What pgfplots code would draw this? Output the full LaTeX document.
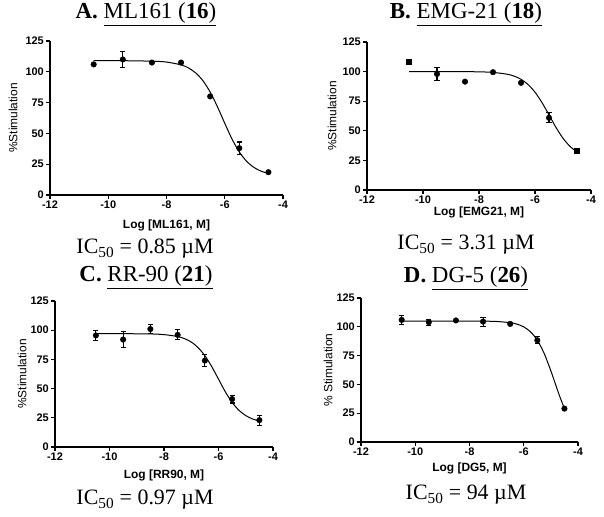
\documentclass[border=0pt]{standalone}
\usepackage{fontspec}
\setmainfont{Liberation Serif}
\setsansfont{Liberation Sans}
\usepackage{pgfplots}
\pgfplotsset{compat=1.18}

\pgfplotsset{
  dr/.style={
    scale only axis,
    axis lines=left,
    axis line style={-, line width=1.3bp},
    tick align=outside,
    tick style={line width=1.2bp, black},
    major tick length=4bp,
    xmin=-12, xmax=-4, ymin=0, ymax=125,
    xtick={-12,-10,-8,-6,-4}, ytick={0,25,50,75,100,125},
    /pgf/number format/assume math mode=true,
    ticklabel style={font=\sffamily\bfseries\fontsize{11}{12}\selectfont, inner sep=2bp},
    xlabel style={font=\sffamily\bfseries\fontsize{12}{13}\selectfont, anchor=center},
    ylabel style={font=\sffamily\fontsize{12}{13}\selectfont, anchor=center},
    clip=false,
  },
  xl/.style={xlabel style={at={([yshift=-#1]axis description cs:0.5,0)}}},
  yl/.style={ylabel style={at={([xshift=-#1]axis description cs:0,0.5)}}},
  fit/.style={black, line width=1bp, no marks, smooth},
  pts/.style={black, only marks, mark=*, mark size=2.8bp,
    error bars/y dir=both, error bars/y explicit,
    error bars/error bar style={line width=1.1bp},
    error bars/error mark options={rotate=90, mark size=2.6bp, line width=1.1bp}},
}

% measured points: x = log concentration, y = % stimulation, e = error
\pgfplotstableread{
x y e
-10.5 106 0
-9.5 110 6.5
-8.5 107.5 0
-7.5 107.5 0
-6.5 80 0
-5.5 38 5
-4.5 18.5 0
}\dataA
\pgfplotstableread{
x y e
-9.5 98 5.5
-8.5 91.5 0
-7.5 99.5 0
-6.5 90.5 0
-5.5 61 4.3
}\dataB
\pgfplotstableread{
x y e
-10.5 108.4 1.5
-4.5 33 2
}\dataBsq
\pgfplotstableread{
x y e
-10.5 95.5 4
-9.5 92 7
-8.5 101 4
-7.5 96 4.3
-6.5 74 5.2
-5.5 41 3.3
-4.5 23 4.3
}\dataC
\pgfplotstableread{
x y e
-10.5 106 3.7
-9.5 104 2.6
-8.5 105.5 0
-7.5 104.5 3.9
-6.5 102.5 0
-5.5 88.3 2.9
-4.5 29 0
}\dataD

\begin{document}
\begin{tikzpicture}[x=1bp, y=1bp]
\useasboundingbox (0,0) rectangle (604,517);

% ---- A ----
\begin{axis}[dr, at={(50bp,322bp)}, anchor=south west, width=233bp, height=154bp,
  xl=30bp, yl=37bp, xlabel={Log [ML161, M]}, ylabel={\%Stimulation}]
\addplot[fit] coordinates {(-10.5,109) (-9.5,109) (-8.5,108.6) (-8,107.9) (-7.5,105.6)
  (-7.25,103.2) (-7,99.1) (-6.75,92.8) (-6.5,83.5) (-6.25,71.6) (-6,58.2) (-5.75,45.4)
  (-5.5,34.9) (-5.25,27.4) (-5,22.4) (-4.75,19.3) (-4.5,17.5)};
\addplot[pts] table[x=x, y=y, y error=e] {\dataA};
\end{axis}

% ---- B ----
\begin{axis}[dr, at={(367bp,327bp)}, anchor=south west, width=224bp, height=148bp,
  xl=22bp, yl=35bp, xlabel={Log [EMG21, M]}, ylabel={\%Stimulation}]
\addplot[fit] coordinates {(-10.5,100) (-9.5,100) (-8.5,99.9) (-8,99.8) (-7.5,99.3)
  (-7,97.8) (-6.75,96.2) (-6.5,93.5) (-6.25,89.1) (-6,82.6) (-5.75,73.8) (-5.5,63.4)
  (-5.25,52.8) (-5,43.7) (-4.75,36.8) (-4.5,32.1)};
\addplot[pts] table[x=x, y=y, y error=e] {\dataB};
\addplot[pts, mark=square*, mark size=2.6bp] table[x=x, y=y, y error=e] {\dataBsq};
\end{axis}

% ---- C ----
\begin{axis}[dr, at={(55bp,70bp)}, anchor=south west, width=218bp, height=146bp,
  xl=28bp, yl=33bp, xlabel={Log [RR90, M]}, ylabel={\%Stimulation}]
\addplot[fit] coordinates {(-10.5,97) (-9.5,97) (-8.5,96.8) (-8,96.2) (-7.5,94.6)
  (-7.25,92.8) (-7,89.9) (-6.75,85.1) (-6.5,78.2) (-6.25,68.9) (-6,58.1) (-5.75,47.3)
  (-5.5,38.2) (-5.25,31.4) (-5,26.9) (-4.75,24) (-4.5,22.3)};
\addplot[pts] table[x=x, y=y, y error=e] {\dataC};
\end{axis}

% ---- D ----
\begin{axis}[dr, at={(361bp,75bp)}, anchor=south west, width=217bp, height=144bp,
  xl=26bp, yl=33bp, xlabel={Log [DG5, M]}, ylabel={\% Stimulation}]
\addplot[fit] coordinates {(-10.5,105) (-9.5,105) (-8.5,105) (-7.5,104.9) (-7,104.6)
  (-6.5,103.6) (-6.25,102.3) (-6,99.9) (-5.75,95.6) (-5.5,88.3) (-5.25,77) (-5,61.7)
  (-4.875,53.2) (-4.75,44.6) (-4.625,36.5) (-4.5,29.1)};
\addplot[pts] table[x=x, y=y, y error=e] {\dataD};
\end{axis}

% ---- titles and IC50 values ----
\begin{scope}[every node/.style={inner sep=0pt, anchor=base}]
\begin{scope}[font=\fontsize{23}{26}\selectfont]
\node at (146,498) {\textbf{A.} \underline{ML161 (\textbf{16})}};
\node at (466,498) {\textbf{B.} \underline{EMG-21 (\textbf{18})}};
\node at (146,235) {\textbf{C.} \underline{RR-90 (\textbf{21})}};
\node at (466,234) {\textbf{D.} \underline{DG-5 (\textbf{26})}};
\end{scope}
\begin{scope}[font=\fontsize{22}{26}\selectfont]
\node at (145,263) {IC\textsubscript{50} = 0.85 µM};
\node at (466,267) {IC\textsubscript{50} = 3.31 µM};
\node at (145,12) {IC\textsubscript{50} = 0.97 µM};
\node at (466,17) {IC\textsubscript{50} = 94 µM};
\end{scope}
\end{scope}
\end{tikzpicture}
\end{document}
